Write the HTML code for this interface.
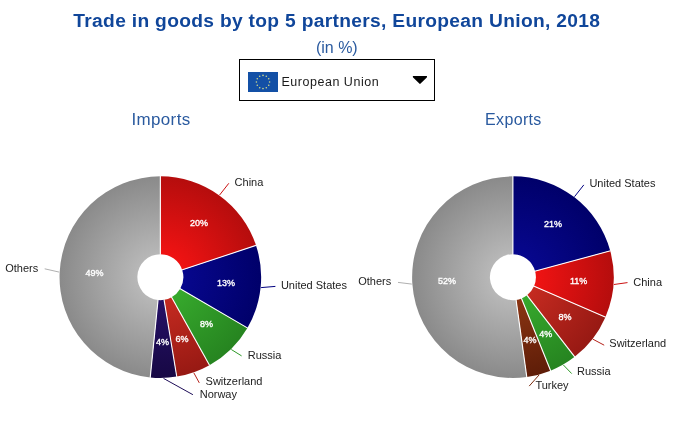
<!DOCTYPE html>
<html lang="en">
<head>
<meta charset="utf-8">
<title>Trade in goods by top 5 partners, European Union, 2018</title>
<style>
html,body{margin:0;padding:0;background:#fff;}
body{width:680px;height:446px;position:relative;overflow:hidden;font-family:"Liberation Sans",sans-serif;}
.title{position:absolute;left:0;width:673.6px;top:9.9px;text-align:center;font-weight:bold;font-size:18px;line-height:22px;color:#10469a;white-space:nowrap;letter-spacing:0.3px;transform:scaleX(1.066);transform-origin:50% 50%;}
.sub{position:absolute;left:0;width:673.6px;top:39px;text-align:center;font-size:16px;line-height:18px;color:#2a5a9f;white-space:nowrap;}
.sel{position:absolute;left:239px;top:59px;width:194px;height:40px;border:1px solid #000;background:#fff;}
.flag{position:absolute;left:8px;top:12px;width:30px;height:20px;}
.seltxt{position:absolute;left:41.5px;top:12px;font-size:12.5px;line-height:20px;color:#1a1a1a;white-space:nowrap;letter-spacing:0.52px;}
.arrow{position:absolute;left:172px;top:16px;width:17px;height:9px;}
.h{position:absolute;top:109.7px;font-size:16px;line-height:20px;color:#2a5a9f;text-align:center;width:120px;white-space:nowrap;letter-spacing:0.35px;transform:scaleX(1.06);transform-origin:50% 50%;}
.ol{font-family:"Liberation Sans",sans-serif;font-size:11px;fill:#222;}
.il{font-family:"Liberation Sans",sans-serif;font-size:9px;fill:#fff;stroke:#fff;stroke-width:0.35px;}
</style>
</head>
<body>
<div class="title">Trade in goods by top 5 partners, European Union, 2018</div>
<div class="sub">(in %)</div>
<div class="sel">
<svg class="flag" viewBox="0 0 30 20"><rect width="30" height="20" fill="#1350a6"/><g fill="#cfd98a"><circle cx="15.00" cy="3.40" r="0.8"/><circle cx="18.30" cy="4.28" r="0.8"/><circle cx="20.72" cy="6.70" r="0.8"/><circle cx="21.60" cy="10.00" r="0.8"/><circle cx="20.72" cy="13.30" r="0.8"/><circle cx="18.30" cy="15.72" r="0.8"/><circle cx="15.00" cy="16.60" r="0.8"/><circle cx="11.70" cy="15.72" r="0.8"/><circle cx="9.28" cy="13.30" r="0.8"/><circle cx="8.40" cy="10.00" r="0.8"/><circle cx="9.28" cy="6.70" r="0.8"/><circle cx="11.70" cy="4.28" r="0.8"/></g></svg>
<div class="seltxt">European Union</div>
<svg class="arrow" viewBox="0 0 17 9"><path d="M1.75,0.75 L14.15,0.75 L7.95,6.95 Z" fill="#000" stroke="#000" stroke-width="1.8" stroke-linejoin="round"/></svg>
</div>
<div class="h" style="left:100.5px">Imports</div>
<div class="h" style="left:453.4px;transform:scaleX(1.0)">Exports</div>
<svg width="680" height="446" viewBox="0 0 680 446" style="position:absolute;left:0;top:0">
<defs>
<radialGradient id="gLred" gradientUnits="userSpaceOnUse" cx="160.35" cy="277.15" r="100.8"><stop offset="0.2" stop-color="#f21313"/><stop offset="1" stop-color="#b50d0d"/></radialGradient>
<radialGradient id="gLnavy" gradientUnits="userSpaceOnUse" cx="160.35" cy="277.15" r="100.8"><stop offset="0.2" stop-color="#07078e"/><stop offset="1" stop-color="#00006a"/></radialGradient>
<radialGradient id="gLgreen" gradientUnits="userSpaceOnUse" cx="160.35" cy="277.15" r="100.8"><stop offset="0.2" stop-color="#37aa2d"/><stop offset="1" stop-color="#268420"/></radialGradient>
<radialGradient id="gLbrick" gradientUnits="userSpaceOnUse" cx="160.35" cy="277.15" r="100.8"><stop offset="0.2" stop-color="#c62b21"/><stop offset="1" stop-color="#971913"/></radialGradient>
<radialGradient id="gLindigo" gradientUnits="userSpaceOnUse" cx="160.35" cy="277.15" r="100.8"><stop offset="0.2" stop-color="#261168"/><stop offset="1" stop-color="#170844"/></radialGradient>
<radialGradient id="gLbrown" gradientUnits="userSpaceOnUse" cx="160.35" cy="277.15" r="100.8"><stop offset="0.2" stop-color="#8c3513"/><stop offset="1" stop-color="#5e1d08"/></radialGradient>
<radialGradient id="gLgrey" gradientUnits="userSpaceOnUse" cx="160.35" cy="277.15" r="100.8"><stop offset="0.2" stop-color="#b9b9b9"/><stop offset="1" stop-color="#8a8a8a"/></radialGradient>
<radialGradient id="gRred" gradientUnits="userSpaceOnUse" cx="512.9" cy="277.15" r="100.8"><stop offset="0.2" stop-color="#f21313"/><stop offset="1" stop-color="#b50d0d"/></radialGradient>
<radialGradient id="gRnavy" gradientUnits="userSpaceOnUse" cx="512.9" cy="277.15" r="100.8"><stop offset="0.2" stop-color="#07078e"/><stop offset="1" stop-color="#00006a"/></radialGradient>
<radialGradient id="gRgreen" gradientUnits="userSpaceOnUse" cx="512.9" cy="277.15" r="100.8"><stop offset="0.2" stop-color="#37aa2d"/><stop offset="1" stop-color="#268420"/></radialGradient>
<radialGradient id="gRbrick" gradientUnits="userSpaceOnUse" cx="512.9" cy="277.15" r="100.8"><stop offset="0.2" stop-color="#c62b21"/><stop offset="1" stop-color="#971913"/></radialGradient>
<radialGradient id="gRindigo" gradientUnits="userSpaceOnUse" cx="512.9" cy="277.15" r="100.8"><stop offset="0.2" stop-color="#261168"/><stop offset="1" stop-color="#170844"/></radialGradient>
<radialGradient id="gRbrown" gradientUnits="userSpaceOnUse" cx="512.9" cy="277.15" r="100.8"><stop offset="0.2" stop-color="#8c3513"/><stop offset="1" stop-color="#5e1d08"/></radialGradient>
<radialGradient id="gRgrey" gradientUnits="userSpaceOnUse" cx="512.9" cy="277.15" r="100.8"><stop offset="0.2" stop-color="#b9b9b9"/><stop offset="1" stop-color="#8a8a8a"/></radialGradient>
</defs>
<path d="M160.35,176.35 A100.8,100.8 0 0 1 256.02,245.40 L182.18,269.91 A23.0,23.0 0 0 0 160.35,254.15 Z" fill="url(#gLred)"/>
<path d="M256.02,245.40 A100.8,100.8 0 0 1 247.43,327.92 L180.22,288.73 A23.0,23.0 0 0 0 182.18,269.91 Z" fill="url(#gLnavy)"/>
<path d="M247.43,327.92 A100.8,100.8 0 0 1 209.46,365.17 L171.56,297.24 A23.0,23.0 0 0 0 180.22,288.73 Z" fill="url(#gLgreen)"/>
<path d="M209.46,365.17 A100.8,100.8 0 0 1 176.74,376.61 L164.09,299.84 A23.0,23.0 0 0 0 171.56,297.24 Z" fill="url(#gLbrick)"/>
<path d="M176.74,376.61 A100.8,100.8 0 0 1 150.23,377.44 L158.04,300.03 A23.0,23.0 0 0 0 164.09,299.84 Z" fill="url(#gLindigo)"/>
<path d="M150.23,377.44 A100.8,100.8 0 0 1 160.35,176.35 L160.35,254.15 A23.0,23.0 0 0 0 158.04,300.03 Z" fill="url(#gLgrey)"/>
<line x1="160.35" y1="254.65" x2="160.35" y2="175.95" stroke="#fff" stroke-width="1.1"/>
<line x1="181.70" y1="270.06" x2="256.40" y2="245.27" stroke="#fff" stroke-width="1.1"/>
<line x1="179.79" y1="288.48" x2="247.78" y2="328.12" stroke="#fff" stroke-width="1.1"/>
<line x1="171.31" y1="296.80" x2="209.66" y2="365.52" stroke="#fff" stroke-width="1.1"/>
<line x1="164.01" y1="299.35" x2="176.81" y2="377.00" stroke="#fff" stroke-width="1.1"/>
<line x1="158.09" y1="299.54" x2="150.19" y2="377.84" stroke="#fff" stroke-width="1.1"/>
<line x1="219.6" y1="195.0" x2="228.8" y2="183.3" stroke="#cc1111" stroke-width="1"/>
<line x1="261.1" y1="287.6" x2="275.4" y2="286.4" stroke="#000080" stroke-width="1"/>
<line x1="231.3" y1="349.5" x2="241.6" y2="355.9" stroke="#2f9a28" stroke-width="1"/>
<line x1="193.8" y1="372.8" x2="199.3" y2="382.9" stroke="#b5221a" stroke-width="1"/>
<line x1="163.5" y1="378.4" x2="192.9" y2="394.7" stroke="#1e0d58" stroke-width="1"/>
<line x1="59.2" y1="272.1" x2="44.7" y2="268.8" stroke="#b0b0b0" stroke-width="1"/>
<text x="234.6" y="185.6" text-anchor="start" class="ol">China</text>
<text x="280.9" y="288.8" text-anchor="start" class="ol">United States</text>
<text x="247.7" y="358.7" text-anchor="start" class="ol">Russia</text>
<text x="205.6" y="384.6" text-anchor="start" class="ol">Switzerland</text>
<text x="199.7" y="397.5" text-anchor="start" class="ol">Norway</text>
<text x="38.2" y="271.8" text-anchor="end" class="ol">Others</text>
<text x="199.0" y="225.8" text-anchor="middle" class="il">20%</text>
<text x="226.0" y="286.2" text-anchor="middle" class="il">13%</text>
<text x="206.6" y="326.5" text-anchor="middle" class="il">8%</text>
<text x="182.1" y="341.7" text-anchor="middle" class="il">6%</text>
<text x="162.4" y="345.3" text-anchor="middle" class="il">4%</text>
<text x="94.4" y="276.0" text-anchor="middle" class="il">49%</text>
<path d="M512.90,176.35 A100.8,100.8 0 0 1 610.21,250.86 L535.10,271.15 A23.0,23.0 0 0 0 512.90,254.15 Z" fill="url(#gRnavy)"/>
<path d="M610.21,250.86 A100.8,100.8 0 0 1 605.41,317.18 L534.01,286.28 A23.0,23.0 0 0 0 535.10,271.15 Z" fill="url(#gRred)"/>
<path d="M605.41,317.18 A100.8,100.8 0 0 1 574.68,356.80 L527.00,295.32 A23.0,23.0 0 0 0 534.01,286.28 Z" fill="url(#gRbrick)"/>
<path d="M574.68,356.80 A100.8,100.8 0 0 1 550.60,370.64 L521.50,298.48 A23.0,23.0 0 0 0 527.00,295.32 Z" fill="url(#gRgreen)"/>
<path d="M550.60,370.64 A100.8,100.8 0 0 1 526.79,376.99 L516.07,299.93 A23.0,23.0 0 0 0 521.50,298.48 Z" fill="url(#gRbrown)"/>
<path d="M526.79,376.99 A100.8,100.8 0 1 1 512.90,176.35 L512.90,254.15 A23.0,23.0 0 1 0 516.07,299.93 Z" fill="url(#gRgrey)"/>
<line x1="512.90" y1="254.65" x2="512.90" y2="175.95" stroke="#fff" stroke-width="1.1"/>
<line x1="534.62" y1="271.28" x2="610.60" y2="250.75" stroke="#fff" stroke-width="1.1"/>
<line x1="533.55" y1="286.09" x2="605.78" y2="317.34" stroke="#fff" stroke-width="1.1"/>
<line x1="526.69" y1="294.93" x2="574.93" y2="357.11" stroke="#fff" stroke-width="1.1"/>
<line x1="521.31" y1="298.02" x2="550.74" y2="371.01" stroke="#fff" stroke-width="1.1"/>
<line x1="516.00" y1="299.44" x2="526.84" y2="377.38" stroke="#fff" stroke-width="1.1"/>
<line x1="574.5" y1="196.7" x2="583.8" y2="184.9" stroke="#000080" stroke-width="1"/>
<line x1="613.9" y1="284.5" x2="627.5" y2="282.6" stroke="#cc1111" stroke-width="1"/>
<line x1="592.9" y1="339.2" x2="604.2" y2="345.2" stroke="#b5221a" stroke-width="1"/>
<line x1="563.4" y1="365.0" x2="571.7" y2="373.6" stroke="#2f9a28" stroke-width="1"/>
<line x1="539.0" y1="375.0" x2="529.2" y2="386.1" stroke="#7a2a0e" stroke-width="1"/>
<line x1="411.8" y1="284.1" x2="398.0" y2="282.4" stroke="#b0b0b0" stroke-width="1"/>
<text x="589.4" y="186.5" text-anchor="start" class="ol">United States</text>
<text x="633.3" y="285.8" text-anchor="start" class="ol">China</text>
<text x="609.3" y="347.0" text-anchor="start" class="ol">Switzerland</text>
<text x="577.0" y="374.8" text-anchor="start" class="ol">Russia</text>
<text x="535.4" y="388.7" text-anchor="start" class="ol">Turkey</text>
<text x="391.2" y="284.7" text-anchor="end" class="ol">Others</text>
<text x="553.0" y="226.9" text-anchor="middle" class="il">21%</text>
<text x="578.7" y="284.1" text-anchor="middle" class="il">11%</text>
<text x="565.1" y="319.8" text-anchor="middle" class="il">8%</text>
<text x="545.8" y="336.6" text-anchor="middle" class="il">4%</text>
<text x="529.9" y="343.1" text-anchor="middle" class="il">4%</text>
<text x="447.1" y="283.9" text-anchor="middle" class="il">52%</text>
</svg>
</body>
</html>
